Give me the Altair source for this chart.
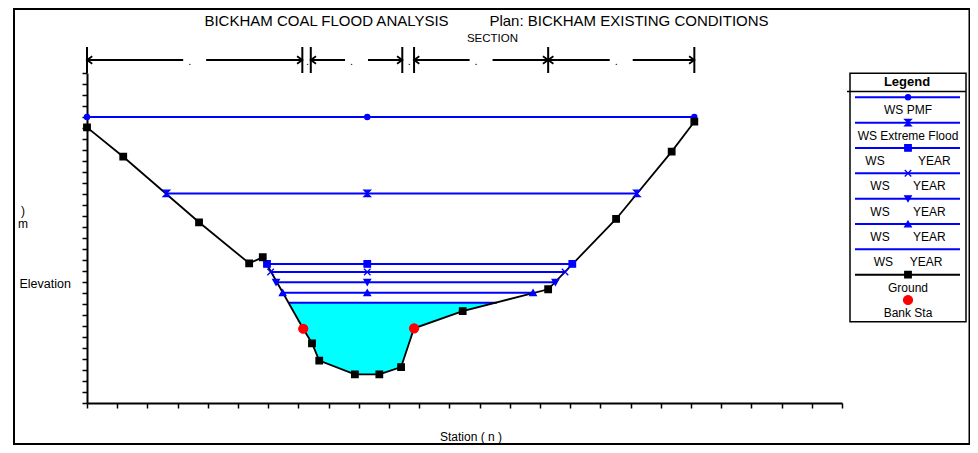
import altair as alt
import pandas as pd

FONT = "Liberation Sans"
NB = "\u00a0"

# ---------------- values ----------------
ground_sta = [0.0, 12.0, 37.1, 53.7, 58.2, 71.6, 74.5, 76.9, 88.7, 96.8, 104.0,
              108.3, 124.4, 152.7, 175.2, 193.6, 201.1]
ground_elev = [25.06, 22.39, 16.43, 12.70, 13.25, 6.75, 5.43, 3.85, 2.61, 2.61, 3.27,
               6.79, 8.36, 10.34, 16.73, 22.85, 25.57]

bank_sta = [71.6, 108.3]
bank_elev = [6.75, 6.79]

ws_keys = ["pmf", "extreme", "yr_a", "yr_b", "yr_c", "yr_d", "yr_e"]
ws_labels = ["WS PMF", "WS Extreme Flood",
             "WS" + NB * 10 + "YEAR", "WS" + NB * 7 + "YEAR", "WS" + NB * 7 + "YEAR",
             "WS" + NB * 7 + "YEAR", "WS" + NB * 5 + "YEAR"]
ws_elev = [26.0, 19.05, 12.64, 11.91, 10.97, 10.03, 9.12]
ws_left = [0.0, 26.3, 59.6, 60.8, 62.6, 64.8, 66.8]
ws_right = [201.1, 182.1, 160.7, 158.3, 155.1, 147.7, 135.7]
ws_marker_mid = 92.8
ws_marked = [True, True, True, True, True, True, False]

n_bounds = [0.0, 71.3, 74.1, 104.4, 108.3, 152.7, 201.1]
n_labels = [".", ".", ".", ".", ".", "."]

x_ticks = list(range(0, 251, 10))
y_ticks = list(range(0, 31))

legend_keys = ws_keys + ["ground", "bank"]
legend_labels = ws_labels + ["Ground", "Bank Sta"]

# ---------------- styles ----------------
BLUE = "#0000FF"
HOURGLASS = "M-1,-1L1,-1L-1,1L1,1Z"
XMARK = "M-1,-1L1,1M-1,1L1,-1"
shape_range = ["circle", HOURGLASS, "square", XMARK, "triangle-down", "triangle-up",
               "circle", "square", "circle"]
color_range = [BLUE] * 7 + ["#000000", "#FF0000"]
shape_scale = alt.Scale(domain=legend_keys, range=shape_range)
color_scale = alt.Scale(domain=legend_keys, range=color_range)
size_groups = [(["pmf"], 26), (["extreme", "yr_a", "yr_b", "yr_c", "yr_d"], 42),
               (["ground"], 42), (["bank"], 80)]

xs = alt.Scale(domain=[0, 250], nice=False, zero=False)
ys = alt.Scale(domain=[0, 30], nice=False, zero=False)

x_axis = alt.Axis(values=x_ticks, labels=False, tickSize=5, tickWidth=1.5, tickColor="black",
                  domainColor="black", domainWidth=2, grid=False, title="Station ( n )",
                  titleFont=FONT, titleFontSize=12, titleFontWeight="normal", titleColor="black",
                  titleX=383.5, titleY=37, titleAlign="center", titleBaseline="alphabetic")
y_axis = alt.Axis(values=y_ticks, labels=False, tickSize=5, tickWidth=1.5, tickColor="black",
                  domainColor="black", domainWidth=2, grid=False, title="Elevation",
                  titleFont=FONT, titleFontSize=12.5, titleFontWeight="normal", titleColor="black",
                  titleAngle=0, titleX=-68, titleY=210, titleAlign="left", titleBaseline="middle")


def X(f):
    return alt.X(f, type="quantitative", scale=xs, axis=x_axis)


def Y(f):
    return alt.Y(f, type="quantitative", scale=ys, axis=y_axis)


one = pd.DataFrame({"z": [0]})

# ---------------- main plot ----------------
ground_df = pd.DataFrame({"sta": ground_sta, "elev": ground_elev})
ws_df = pd.DataFrame({"key": ws_keys, "left": ws_left, "right": ws_right, "elev": ws_elev})

lvl, wl, wr = ws_elev[-1], ws_left[-1], ws_right[-1]
water_sta = [wl] + [s for s in ground_sta if wl < s < wr] + [wr]
water_bot = [lvl] + [e for s, e in zip(ground_sta, ground_elev) if wl < s < wr] + [lvl]
water_df = pd.DataFrame({"sta": water_sta, "bottom": water_bot, "top": [lvl] * len(water_sta)})

water = alt.Chart(water_df).mark_area(color="#00FFFF", opacity=1).encode(
    x=X("sta"), y=Y("bottom"), y2="top")
ws_lines = alt.Chart(ws_df).mark_rule(color=BLUE, strokeWidth=2).encode(
    x=X("left"), x2="right", y=Y("elev"))
ground_line = alt.Chart(ground_df).mark_line(color="black", strokeWidth=1.8).encode(
    x=X("sta"), y=Y("elev"))

rows = []
for k, l, r, e, m in zip(ws_keys, ws_left, ws_right, ws_elev, ws_marked):
    if m:
        for s in (l, ws_marker_mid, r):
            rows.append({"sta": s, "elev": e, "key": k})
for s, e in zip(ground_sta, ground_elev):
    if s not in bank_sta:
        rows.append({"sta": s, "elev": e, "key": "ground"})
for s, e in zip(bank_sta, bank_elev):
    rows.append({"sta": s, "elev": e, "key": "bank"})
mk_df = pd.DataFrame(rows)


def marker_layers(df, xenc, yenc):
    out = []
    for keys, size in size_groups:
        out.append(
            alt.Chart(df).transform_filter(alt.FieldOneOfPredicate(field="key", oneOf=keys))
            .mark_point(filled=True, size=size, strokeWidth=1.3, opacity=1)
            .encode(x=xenc, y=yenc,
                    shape=alt.Shape("key:N", scale=shape_scale, legend=None),
                    color=alt.Color("key:N", scale=color_scale, legend=None),
                    stroke=alt.Stroke("key:N", scale=color_scale, legend=None)))
    return out


main_markers = marker_layers(mk_df, X("sta"), Y("elev"))

# Manning's n zones above the plot
zones = pd.DataFrame({"start": n_bounds[:-1], "end": n_bounds[1:], "label": n_labels})
zones["mid"] = (zones["start"] + zones["end"]) / 2
zones["wide"] = (zones["end"] - zones["start"]) > 10
GAP = 3.8
wide = zones[zones["wide"]]
shaft_df = pd.DataFrame({
    "a": list(wide["start"]) + list(wide["mid"] + GAP),
    "b": list(wide["mid"] - GAP) + list(wide["end"]),
})
bars_df = pd.DataFrame({"sta": n_bounds})

n_bars = alt.Chart(bars_df).mark_rule(color="black", strokeWidth=2).encode(
    x=X("sta"), y=alt.value(-26), y2=alt.value(0))
n_shafts = alt.Chart(shaft_df).mark_rule(color="black", strokeWidth=1.8).encode(
    x=X("a"), x2="b", y=alt.value(-13))
n_head_l = alt.Chart(wide).mark_point(shape="M1,-0.7L0,0L1,0.7", size=110, filled=False,
                                      color="black", strokeWidth=1.8, opacity=1).encode(
    x=X("start"), y=alt.value(-13))
n_head_r = alt.Chart(wide).mark_point(shape="M-1,-0.7L0,0L-1,0.7", size=110, filled=False,
                                      color="black", strokeWidth=1.8, opacity=1).encode(
    x=X("end"), y=alt.value(-13))
n_text_w = alt.Chart(zones).transform_filter("datum.wide").mark_text(
    font=FONT, fontSize=11, dx=-5, baseline="alphabetic", color="black").encode(
    x=X("mid"), y=alt.value(-8.5), text="label:N")
n_text_n = alt.Chart(zones).transform_filter("!datum.wide").mark_text(
    font=FONT, fontSize=11, dx=1, baseline="alphabetic", color="black").encode(
    x=X("mid"), y=alt.value(-8.5), text="label:N")

title1 = alt.Chart(one).mark_text(font=FONT, fontSize=15, baseline="alphabetic").encode(
    x=alt.value(239.5), y=alt.value(-47), text=alt.value("BICKHAM COAL FLOOD ANALYSIS"))
title2 = alt.Chart(one).mark_text(font=FONT, fontSize=15, baseline="alphabetic").encode(
    x=alt.value(542), y=alt.value(-47), text=alt.value("Plan: BICKHAM EXISTING CONDITIONS"))
subtitle = alt.Chart(one).mark_text(font=FONT, fontSize=11.5, baseline="alphabetic").encode(
    x=alt.value(405.5), y=alt.value(-31.3), text=alt.value("SECTION"))
unit_txt = alt.Chart(one).mark_text(font=FONT, fontSize=12, baseline="middle",
                                    lineBreak="\n", lineHeight=13).encode(
    x=alt.value(-64), y=alt.value(138), text=alt.value(")\nm"))
frame = alt.Chart(one).mark_rect(fillOpacity=0, stroke="black", strokeWidth=2).encode(
    x=alt.value(-73), x2=alt.value(882.5), y=alt.value(-64), y2=alt.value(371))

main = alt.layer(frame, water, ws_lines, ground_line, *main_markers,
                 n_bars, n_shafts, n_head_l, n_head_r, n_text_w, n_text_n,
                 title1, title2, subtitle, unit_txt)

# ---------------- legend ----------------
leg_df = pd.DataFrame({"key": legend_keys, "label": legend_labels})
ly = alt.Scale(type="point", domain=legend_keys, range=[24.3, 227.0], padding=0)
LY = alt.Y("key:N", scale=ly, axis=None)

leg_box = alt.Chart(one).mark_rect(fill="white", stroke="black", strokeWidth=1.5).encode(
    x=alt.value(763), x2=alt.value(879), y=alt.value(0.3), y2=alt.value(248.7))
leg_title = alt.Chart(one).mark_text(font=FONT, fontSize=13, fontWeight="bold",
                                     baseline="middle").encode(
    x=alt.value(820), y=alt.value(8.8), text=alt.value("Legend"))
leg_sep = alt.Chart(one).mark_rule(color="black", strokeWidth=1.5).encode(
    x=alt.value(760), x2=alt.value(879), y=alt.value(18.5))
leg_lines = alt.Chart(leg_df).transform_filter("datum.key != 'bank'").mark_rule(
    strokeWidth=2).encode(
    x=alt.value(768), x2=alt.value(873), y=LY,
    color=alt.Color("key:N", scale=color_scale, legend=None))
leg_markers = marker_layers(leg_df, alt.value(821), LY)
leg_text = alt.Chart(leg_df).mark_text(font=FONT, fontSize=12, baseline="middle", dy=13).encode(
    x=alt.value(821), y=LY, text="label:N")

legend = alt.layer(leg_box, leg_title, leg_sep, leg_lines, *leg_markers, leg_text)

chart = alt.layer(main, legend).resolve_scale(y="independent").properties(
    width=755, height=330,
    autosize=alt.AutoSizeParams(type="none"),
    padding={"left": 79, "top": 65, "right": 128, "bottom": 42},
    background="white",
).configure_view(stroke="transparent").configure_text(color="black")

chart.save("out.html", embed_options={"renderer": "svg", "actions": False})
